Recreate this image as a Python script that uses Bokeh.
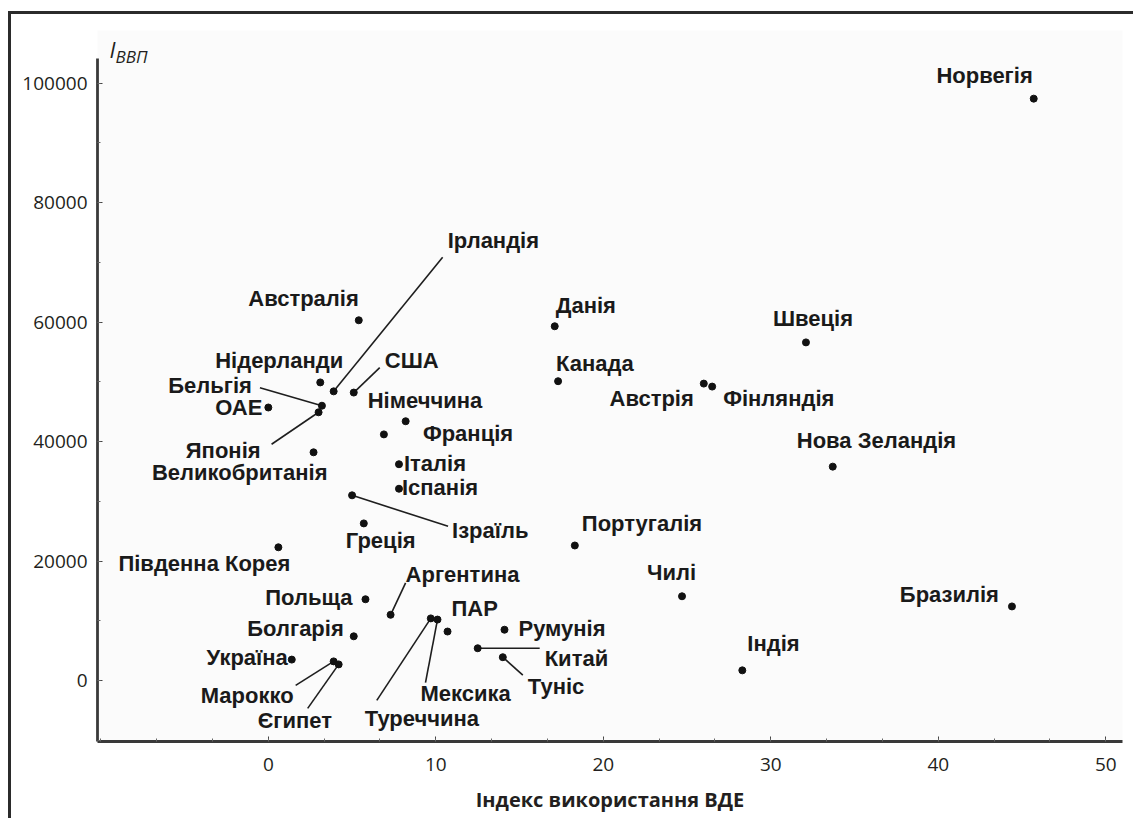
from bokeh.plotting import figure
from bokeh.models import (ColumnDataSource, Range1d, FixedTicker, BasicTickFormatter, Label)
from bokeh.core.properties import value
from bokeh.embed import file_html
from bokeh.resources import INLINE

# ---------------- data ----------------
countries = ["Норвегія", "Швеція", "Данія", "Канада", "Австрія", "Фінляндія",
             "Нова Зеландія", "Португалія", "Чилі", "Індія", "Бразилія",
             "Ірландія", "Австралія", "Нідерланди", "США", "Бельгія", "ОАЕ",
             "Японія", "Великобританія", "Німеччина", "Франція", "Італія",
             "Іспанія", "Ізраїль", "Греція", "Південна Корея", "Польща",
             "Аргентина", "ПАР", "Туреччина", "Мексика", "Румунія", "Китай",
             "Туніс", "Україна", "Болгарія", "Марокко", "Єгипет"]
re_index = [45.7, 32.1, 17.1, 17.3, 26.0, 26.5,
            33.7, 18.3, 24.7, 28.3, 44.4,
            3.9, 5.4, 3.1, 5.1, 3.2, 0.0,
            3.0, 2.7, 8.2, 6.9, 7.8,
            7.8, 5.0, 5.7, 0.6, 5.8,
            7.3, 10.7, 9.7, 10.1, 14.1, 12.5,
            14.0, 1.4, 5.1, 3.9, 4.2]
gdp_index = [97400, 56600, 59300, 50100, 49700, 49200,
             35800, 22600, 14100, 1700, 12400,
             48400, 60300, 49900, 48200, 46000, 45700,
             44900, 38200, 43400, 41200, 36200,
             32100, 31000, 26300, 22300, 13600,
             11000, 8200, 10400, 10200, 8500, 5400,
             3900, 3500, 7400, 3200, 2700]
x_ticks = [0, 10, 20, 30, 40, 50]
y_ticks = [0, 20000, 40000, 60000, 80000, 100000]
x_title = "Індекс використання ВДЕ"
y_title_main = "I"
y_title_sub = "ВВП"

# ---------------- label placement (pixels relative to the dot) ----------------
lab_dx = [-1, -33, 1, -2, -10, 11, -36, 7, -35, 5, -13,
          114, 0, 23, 31, -70, -6, -58, 14, -38, 39, 5,
          3, 100, -18, 12, -13, 15, 4, -66, -17, 14, 67,
          25, -4, -10, -40, -81]
lab_dy = [-23, -24, -21, -18, 15, 12, -26, -22, -24, -27, -12,
          -151, -22, -22, -32, -20, 0, 38, 20, -21, -1, -1,
          -1, 35, 17, 16, -2, -40, -23, 100, 74, -1, 10,
          29, -2, -8, 34, 56]
lab_align = ["right", "left", "left", "left", "right", "left", "left", "left", "left", "left", "right",
             "left", "right", "right", "left", "right", "right", "right", "right", "left", "left", "left",
             "left", "left", "left", "right", "right", "left", "left", "left", "left", "left", "left",
             "left", "right", "right", "right", "left"]
# leader lines: end point in pixels relative to the dot
leaders = {"Ірландія": (109, -134), "США": (26, -25), "Бельгія": (-62, -18),
           "Японія": (-47, 32), "Ізраїль": (96, 31), "Аргентина": (15, -32),
           "Туреччина": (-54, 82), "Мексика": (-12, 63), "Китай": (62, 0),
           "Туніс": (20, 18), "Марокко": (-38, 24), "Єгипет": (-31, 44)}

X0, X1 = -10.2, 51.0
Y0, Y1_axis = -10210, 104120
FW, FH_axis = 1025, 683
EXTRA_TOP = 28  # room above the axis for the y title
sx = FW / (X1 - X0)
sy = FH_axis / (Y1_axis - Y0)
Y1 = Y1_axis + EXTRA_TOP / sy

p = figure(width=1125, height=807, x_range=Range1d(X0, X1), y_range=Range1d(Y0, Y1),
           output_backend="svg", toolbar_location=None,
           min_border_left=86, min_border_right=14, min_border_top=16, min_border_bottom=80,
           background_fill_color="#fbfbfb", border_fill_color="white",
           outline_line_color=None)
p.styles = {"border-left": "3px solid #2b2b2b", "border-top": "3px solid #2b2b2b",
            "margin-left": "8px", "margin-top": "11px"}
p.grid.visible = False

# leader lines
lx0, ly0, lx1, ly1 = [], [], [], []
for c, x, y in zip(countries, re_index, gdp_index):
    if c in leaders:
        dx, dy = leaders[c]
        lx0.append(x); ly0.append(y)
        lx1.append(x + dx / sx); ly1.append(y - dy / sy)
p.segment(x0=lx0, y0=ly0, x1=lx1, y1=ly1, line_color="#1e1e1e", line_width=1.6)

src = ColumnDataSource(dict(x=re_index, y=gdp_index, name=countries,
                            dx=lab_dx, dy=lab_dy, align=lab_align))
p.scatter("x", "y", source=src, size=7, color="#111111")
p.text("x", "y", text="name", source=src, x_offset="dx", y_offset="dy",
       text_align="align", text_baseline="middle",
       text_font=value("Liberation Sans"), text_font_style="bold",
       text_font_size="22px", text_color="#1a1a1a")

# axes
for ax in (p.xaxis[0], p.yaxis[0]):
    ax.axis_line_width = 2.8
    ax.axis_line_color = "#3a3a3a"
    ax.major_tick_in = 5
    ax.major_tick_out = 0
    ax.minor_tick_in = 3
    ax.minor_tick_out = 0
    ax.major_tick_line_color = "#444444"
    ax.minor_tick_line_color = "#666666"
    ax.major_label_text_font = "Open Sans"
    ax.major_label_text_font_size = "19px"
    ax.major_label_text_color = "#231f20"

p.yaxis.bounds = (Y0, Y1_axis)
p.xaxis.ticker = FixedTicker(ticks=x_ticks,
                             minor_ticks=[-10 + i * 10 / 3 for i in range(19)])
p.yaxis.ticker = FixedTicker(ticks=y_ticks,
                             minor_ticks=[-10000 + i * 10000 for i in range(12)])
p.yaxis.formatter = BasicTickFormatter(use_scientific=False)
p.xaxis.major_label_standoff = 16
p.yaxis.major_label_standoff = 10

p.xaxis.axis_label = x_title
p.xaxis.axis_label_text_font = "Open Sans"
p.xaxis.axis_label_text_font_style = "bold"
p.xaxis.axis_label_text_font_size = "20px"
p.xaxis.axis_label_text_color = "#231f20"
p.xaxis.axis_label_standoff = 12

# y title "I" with subscript
p.add_layout(Label(x=X0 + 12 / sx, y=Y1_axis + 10 / sy, text=y_title_main,
                   text_font="Open Sans", text_font_style="italic",
                   text_font_size="22px", text_baseline="middle", text_color="#231f20"))
p.add_layout(Label(x=X0 + 18 / sx, y=Y1_axis + 2 / sy, text=y_title_sub,
                   text_font="Open Sans", text_font_style="italic",
                   text_font_size="17px", text_baseline="middle", text_color="#231f20"))

open("out.html", "w").write(file_html(p, INLINE))
